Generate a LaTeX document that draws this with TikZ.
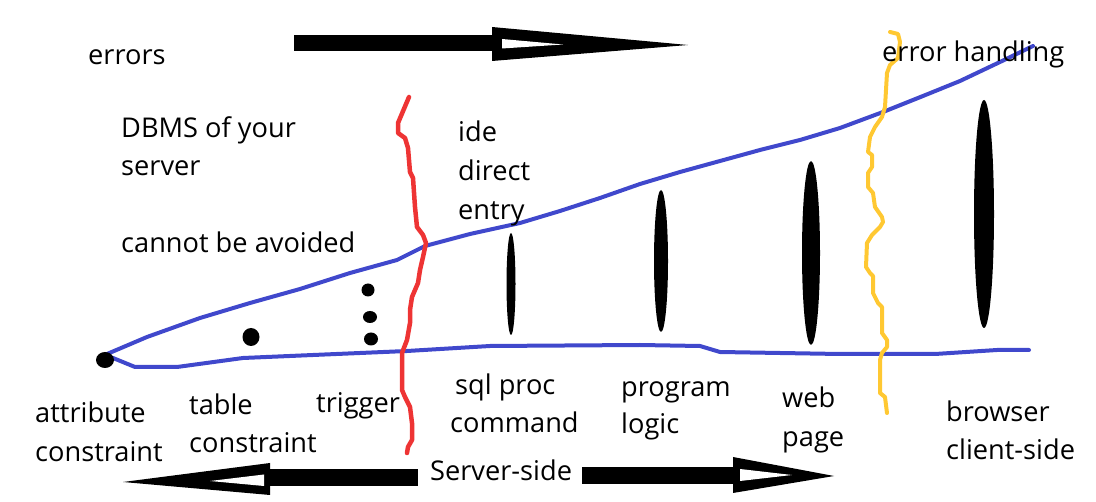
\documentclass[tikz,border=0pt]{standalone}
\usepackage{fontspec}
\setmainfont{Open Sans}
\definecolor{penblue}{RGB}{64,72,204}
\definecolor{penred}{RGB}{238,52,52}
\definecolor{penyellow}{RGB}{255,200,50}
\begin{document}
\begin{tikzpicture}[x=1pt,y=-1pt,
  lbl/.style={inner sep=0pt,anchor=base west,font=\fontsize{27.2}{38}\selectfont},
  bluepen/.style={draw=penblue,line width=4pt,line join=round,line cap=round},
  redpen/.style={draw=penred,line width=4.5pt,line join=round,line cap=round},
  yellowpen/.style={draw=penyellow,line width=4pt,line join=round,line cap=round},
  blob/.style={fill=black}]
\useasboundingbox (0,0) rectangle (1096,502);

% blue wedge
\draw[bluepen] (107,354) -- (147,337) -- (200,318) -- (250,303) -- (300,289) -- (350,273) -- (397,260) -- (425,246) -- (470,234) -- (520,223) -- (560,211) -- (600,198) -- (640,184) -- (680,172) -- (720,161) -- (760,150) -- (800,140) -- (840,128) -- (883,112) -- (923,96) -- (960,81) -- (1000,62) -- (1033,46);
\draw[bluepen] (105,358) -- (113,358) -- (135,367) -- (177,367) -- (243,358) -- (313,355) -- (407,351) -- (490,346) -- (640,345) -- (700,346) -- (720,352) -- (840,354) -- (935,354) -- (997,350) -- (1029,350);

% red boundary
\draw[redpen] (409,97) -- (398,123) -- (398,133) -- (405,138) -- (408,148) -- (410,172) -- (413,178) -- (415,207) -- (417,227) -- (423,235) -- (426,243) -- (423,257) -- (420,270) -- (418,283) -- (412,297) -- (410,310) -- (410,323) -- (407,340) -- (402,353) -- (402,390) -- (405,397) -- (410,407) -- (412,423) -- (412,440) -- (408,447) -- (407,453);

% yellow boundary
\draw[yellowpen] (890,32) -- (898,34) -- (900,42) -- (898,58) -- (890,65) -- (887,73) -- (885,107) -- (882,117) -- (875,127) -- (870,137) -- (868,152) -- (872,155) -- (872,167) -- (868,173) -- (868,187) -- (873,193) -- (875,207) -- (882,217) -- (883,222) -- (880,227) -- (872,235) -- (867,243) -- (866,267) -- (870,273) -- (873,276) -- (873,293) -- (878,303) -- (882,307) -- (882,333) -- (887,340) -- (887,347) -- (882,353) -- (880,360) -- (880,393) -- (885,397) -- (887,413);

% dots and bars
\fill[blob] (105,360) ellipse [x radius=9, y radius=8];
\fill[blob] (251,337) ellipse [x radius=8.5, y radius=9];
\fill[blob] (368,290) ellipse [x radius=6.5, y radius=6.5];
\fill[blob] (370,317) ellipse [x radius=7, y radius=6];
\fill[blob] (371,339) ellipse [x radius=7, y radius=6.5];
\fill[blob] (511,284) ellipse [x radius=4.5, y radius=51];
\fill[blob] (661,261) ellipse [x radius=7, y radius=71];
\fill[blob] (811,253) ellipse [x radius=9, y radius=92];
\fill[blob] (984,214) ellipse [x radius=10, y radius=114];

% top arrow
\fill[blob] (294,35) rectangle (494,51);
\fill[blob] (492,27) -- (492,61) -- (688,45) -- cycle;
\fill[white] (502,39) -- (502,48.5) -- (563,44.5) -- cycle;

% bottom-left arrow
\fill[blob] (268,469) rectangle (418,486);
\fill[blob] (270,463) -- (270,495) -- (123,482) -- cycle;
\fill[white] (264,474.5) -- (264,486) -- (210,481) -- cycle;

% bottom-right arrow
\fill[blob] (582,467) rectangle (735,484);
\fill[blob] (733,457) -- (733,493) -- (834,476) -- cycle;
\fill[white] (740,469) -- (740,481) -- (792,475) -- cycle;

% labels
\node[lbl] (errors) at (88,65) {errors};
\node[lbl] (dbms1) at (121,138) {DBMS of your};
\node[lbl] (dbms2) at (121,176) {server};
\node[lbl] (avoid) at (121,253) {cannot be avoided};
\node[lbl] (ide1) at (458,142) {ide};
\node[lbl] (ide2) at (458,181) {direct};
\node[lbl] (ide3) at (458,220) {entry};
\node[lbl] (errh) at (882,62) {error handling};
\node[lbl] (attr1) at (35,423) {attribute};
\node[lbl] (attr2) at (35,462) {constraint};
\node[lbl] (tab1) at (189,415) {table};
\node[lbl] (tab2) at (189,453) {constraint};
\node[lbl] (trig) at (316,413) {trigger};
\node[lbl] (sql1) at (455,395) {sql proc};
\node[lbl] (sql2) at (450,433) {command};
\node[lbl] (prog1) at (621,397) {program};
\node[lbl] (prog2) at (621,434) {logic};
\node[lbl] (web1) at (782,408) {web};
\node[lbl] (web2) at (782,447) {page};
\node[lbl] (brow1) at (946,422) {browser};
\node[lbl] (brow2) at (946,460) {client-side};
\node[lbl] (server) at (430,481) {Server-side};
\end{tikzpicture}
\end{document}
